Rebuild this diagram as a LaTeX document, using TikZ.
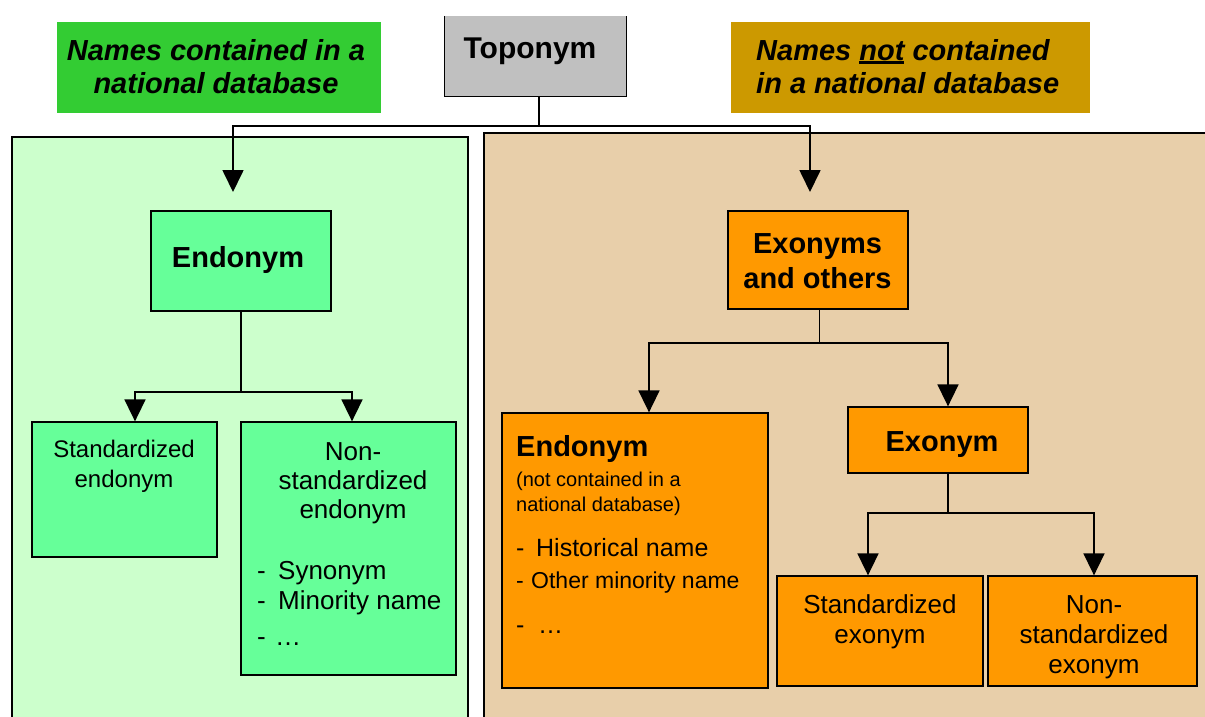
\documentclass[tikz,border=0pt]{standalone}
\usepackage{fontspec}
\setmainfont{Liberation Sans}
\usepackage{tikz}
\usetikzlibrary{arrows.meta}
\definecolor{dbgreen}{HTML}{33CC33}
\definecolor{dbgold}{HTML}{CC9900}
\definecolor{topgray}{HTML}{C0C0C0}
\definecolor{panelgreen}{HTML}{CCFFCC}
\definecolor{paneltan}{HTML}{E8CFAA}
\definecolor{boxgreen}{HTML}{66FF99}
\definecolor{boxorange}{HTML}{FF9900}
\newcommand{\fsz}[1]{\fontsize{#1}{#1}\selectfont}
\newcommand{\undl}[1]{\setbox0=\hbox{#1}\rlap{\rule[-3.5pt]{\wd0}{2.5pt}}\box0\relax}

\begin{document}
\begin{tikzpicture}[x=1pt,y=1pt]
				\tikzstyle{every node}+=[inner sep=0pt]
				\tikzstyle{greenbox}=[draw=black,line width=1.3pt,fill=boxgreen]
				\tikzstyle{orangebox}=[draw=black,line width=1.3pt,fill=boxorange]
				\tikzstyle{link}=[black,line width=1.7pt]
				\tikzstyle{arrowlink}=[link,-{Triangle[width=21pt,length=22pt]}]
				\tikzstyle{head}=[font=\fsz{29}\bfseries,anchor=base]
				\tikzstyle{banner}=[font=\fsz{29}\bfseries\itshape,anchor=base]
				\useasboundingbox (0,0) rectangle (1205,-716);
				\draw [black,line width=1.3pt,fill=panelgreen] (12,-137) rectangle (468,-730);
				\draw [black,line width=1.3pt,fill=paneltan] (484,-133) rectangle (1220,-730);
				\node [fill=dbgreen,minimum width=324pt,minimum height=91pt] (inDb) at (219,-67.5) {};
				\node [fill=dbgold,minimum width=359pt,minimum height=91pt] (notDb) at (910.5,-67.5) {};
				\node [banner] (inDbA) at (216,-60) {Names contained in a};
				\node [banner] (inDbB) at (216,-93) {national database};
				\node [banner,anchor=base west] (notDbA) at (756,-60) {Names \undl{not} contained};
				\node [banner,anchor=base west] (notDbB) at (756,-93) {in a national database};
				\node [fill=topgray,minimum width=181pt,minimum height=80pt] (topo) at (535.5,-56) {};
				\draw [black,line width=1.3pt] (topo.north west) -- (topo.south west) -- (topo.south east) -- (topo.north east);
				\node [head,font=\fsz{30}\bfseries] (topoT) at (530,-58) {Toponym};
				\coordinate (inL) at (233,-192);
				\coordinate (inR) at (810,-192);
				\draw [link] ([xshift=3.5pt]topo.south) -- ++(0,-30) coordinate (split0);
				\draw [arrowlink] (split0) -| (inL);
				\draw [arrowlink] (split0) -| (inR);
				\node [greenbox,minimum width=180pt,minimum height=100pt] (endoG) at (241,-261) {};
				\node [head] (endoGT) at (238,-267) {Endonym};
				\node [greenbox,minimum width=185pt,minimum height=135pt] (stdE) at (124.5,-489.5) {};
				\foreach \t [count=\i] in {Standardized,endonym}
					\node [font=\fsz{24},anchor=base] (stdET\i) at (124,{-457-30*(\i-1)}) {\t};
				\node [greenbox,minimum width=215pt,minimum height=253pt] (nstdE) at (348.5,-548.5) {};
				\foreach \t [count=\i] in {Non-,standardized,endonym}
					\node [font=\fsz{26},anchor=base] (nstdET\i) at (353,{-460-29*(\i-1)}) {\t};
				\node [font=\fsz{26},anchor=base west] (nstdEL1) at (257,-579) {\makebox[21pt][l]{-}Synonym};
				\node [font=\fsz{26},anchor=base west] (nstdEL2) at (257,-609) {\makebox[21pt][l]{-}Minority name};
				\node [font=\fsz{26},anchor=base west] (nstdEL3) at (257,-645) {\makebox[18pt][l]{-}…};
				\draw [link] (endoG.south) -- ++(0,-80) coordinate (split1);
				\draw [arrowlink] (split1) -| ([xshift=10.5pt]stdE.north);
				\draw [arrowlink] (split1) -| ([xshift=3.5pt]nstdE.north);
				\node [orangebox,minimum width=180pt,minimum height=98pt] (exoO) at (818,-260) {};
				\node [head] (exoOA) at (817.5,-253) {Exonyms};
				\node [head] (exoOB) at (817.5,-288) {and others};
				\node [orangebox,minimum width=266pt,minimum height=275pt] (endoO) at (635,-550.5) {};
				\node [head,anchor=base west] (endoOT) at (516,-456) {Endonym};
				\node [font=\fsz{20},anchor=base west] (endoON1) at (516,-486) {(not contained in a};
				\node [font=\fsz{20},anchor=base west] (endoON2) at (516,-511) {national database)};
				\node [font=\fsz{25},anchor=base west] (endoOL1) at (516,-556) {\makebox[20pt][l]{-}Historical name};
				\node [font=\fsz{23},anchor=base west] (endoOL2) at (516,-588) {\makebox[15pt][l]{-}Other minority name};
				\node [font=\fsz{25},anchor=base west] (endoOL3) at (516,-633) {\makebox[22pt][l]{-}…};
				\node [orangebox,minimum width=180pt,minimum height=66pt] (exoN) at (938,-440) {};
				\node [head] (exoNT) at (942,-451) {Exonym};
				\draw [link] ([xshift=1.5pt]exoO.south) -- ++(0,-33) coordinate (split2);
				\draw [arrowlink] (split2) -| ([xshift=14pt]endoO.north);
				\draw [arrowlink] (split2) -| ([xshift=10pt]exoN.north);
				\node [orangebox,minimum width=206pt,minimum height=110pt] (stdX) at (880,-631) {};
				\foreach \t [count=\i] in {Standardized,exonym}
					\node [font=\fsz{26},anchor=base] (stdXT\i) at (880,{-613-30*(\i-1)}) {\t};
				\node [orangebox,minimum width=209pt,minimum height=110pt] (nstdX) at (1092.5,-631) {};
				\foreach \t [count=\i] in {Non-,standardized,exonym}
					\node [font=\fsz{26},anchor=base] (nstdXT\i) at (1094,{-613-30*(\i-1)}) {\t};
				\draw [link] ([xshift=10pt]exoN.south) -- ++(0,-39) coordinate (split3);
				\draw [arrowlink] (split3) -| ([xshift=-12pt]stdX.north);
				\draw [arrowlink] (split3) -| ([xshift=1.5pt]nstdX.north);
\end{tikzpicture}
\end{document}
